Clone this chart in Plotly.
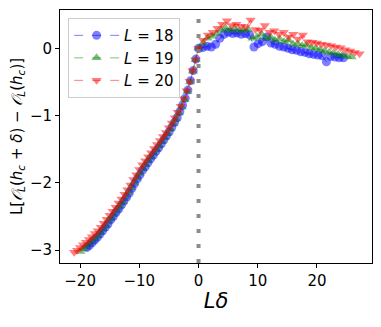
import plotly.graph_objects as go

# field offsets delta = h - h_c; the scan is finer below h_c than above it
delta = [-1.050, -1.025, -1.000, -0.975, -0.950, -0.925, -0.900, -0.875, -0.850, -0.825,
         -0.800, -0.775, -0.750, -0.725, -0.700, -0.675, -0.650, -0.625, -0.600, -0.575,
         -0.550, -0.525, -0.500, -0.475, -0.450, -0.425, -0.400, -0.375, -0.350, -0.325,
         -0.300, -0.275, -0.250, -0.225, -0.200, -0.175, -0.150, -0.125, -0.100, -0.075,
         -0.050, -0.025, 0.000,
         0.04, 0.08, 0.12, 0.16, 0.20, 0.24, 0.28, 0.32, 0.36, 0.40,
         0.44, 0.48, 0.52, 0.56, 0.60, 0.64, 0.68, 0.72, 0.76, 0.80,
         0.84, 0.88, 0.92, 0.96, 1.00, 1.04, 1.08, 1.12, 1.16, 1.20,
         1.24, 1.28, 1.32, 1.36]

y_L18 = [-2.96, -2.93, -2.89, -2.85, -2.81, -2.76, -2.71, -2.66, -2.61, -2.55,
         -2.50, -2.44, -2.39, -2.33, -2.27, -2.21, -2.15, -2.08, -2.01, -1.94,
         -1.88, -1.81, -1.76, -1.70, -1.64, -1.59, -1.53, -1.48, -1.42, -1.36,
         -1.30, -1.24, -1.17, -1.10, -1.03, -0.94, -0.85, -0.74, -0.62, -0.48,
         -0.33, -0.16, 0.00,
         0.01, 0.03, 0.02, 0.06, 0.15, 0.21, 0.24, 0.22, 0.23, 0.21,
         0.22, 0.20, 0.02, 0.07, 0.10, 0.17, 0.08, 0.06, 0.03, 0.02,
         0.00, -0.02, -0.03, -0.05, -0.06, -0.08, -0.09, -0.10, -0.11, -0.20,
         -0.12, -0.13, -0.14, -0.14]

y_L19 = [-3.02, -2.98, -2.94, -2.90, -2.86, -2.82, -2.78, -2.73, -2.68, -2.62,
         -2.56, -2.51, -2.45, -2.39, -2.34, -2.28, -2.21, -2.14, -2.07, -2.00,
         -1.93, -1.86, -1.79, -1.73, -1.67, -1.61, -1.55, -1.50, -1.44, -1.38,
         -1.32, -1.26, -1.20, -1.12, -1.05, -0.96, -0.87, -0.76, -0.64, -0.50,
         -0.34, -0.17, 0.00,
         0.08, 0.15, 0.18, 0.22, 0.27, 0.30, 0.27, 0.29, 0.26, 0.27,
         0.28, 0.15, 0.17, 0.21, 0.15, 0.17, 0.12, 0.14, 0.10, 0.12,
         0.06, 0.07, 0.04, 0.05, 0.01, 0.00, -0.02, -0.04, -0.06, -0.07,
         -0.09, -0.10, -0.12, -0.13]

y_L20 = [-3.03, -3.00, -2.96, -2.92, -2.88, -2.84, -2.80, -2.75, -2.71, -2.66,
         -2.60, -2.54, -2.48, -2.42, -2.36, -2.30, -2.24, -2.17, -2.10, -2.03,
         -1.95, -1.88, -1.80, -1.73, -1.67, -1.61, -1.55, -1.49, -1.43, -1.37,
         -1.31, -1.25, -1.18, -1.11, -1.03, -0.95, -0.86, -0.75, -0.63, -0.49,
         -0.33, -0.17, 0.00,
         0.12, 0.20, 0.24, 0.30, 0.36, 0.41, 0.34, 0.36, 0.33, 0.32,
         0.42, 0.28, 0.27, 0.34, 0.24, 0.26, 0.21, 0.24, 0.17, 0.21,
         0.14, 0.20, 0.10, 0.09, 0.08, 0.06, 0.05, 0.04, 0.02, 0.01,
         -0.02, -0.04, -0.06, -0.08]

series = [
    (18, y_L18, "rgba(0,0,255,0.5)", "circle"),
    (19, y_L19, "rgba(0,128,0,0.5)", "triangle-up"),
    (20, y_L20, "rgba(255,0,0,0.5)", "triangle-down"),
]

fig = go.Figure()
for L, ys, col, sym in series:
    fig.add_trace(go.Scatter(
        x=[L * d for d in delta], y=ys,
        mode="lines+markers",
        name=f"<i>L</i> = {L}",
        line=dict(color=col, width=1, dash="dash"),
        marker=dict(symbol=sym, size=9, color=col, line=dict(width=0)),
    ))

# critical point marker
fig.add_shape(type="line", xref="x", yref="paper", x0=0, x1=0, y0=0, y1=1,
              line=dict(color="rgba(128,128,128,0.9)", width=4, dash="4px,11px"))

axis_common = dict(showgrid=False, zeroline=False, showline=True, linecolor="black",
                   linewidth=1, mirror=True, ticks="outside", ticklen=4,
                   tickcolor="black", tickfont=dict(size=15, color="black"),
                   automargin=False)

# page body adds an 8px offset, so the figure is a bit smaller than the window
fig.update_layout(
    width=373, height=319,
    margin=dict(l=52, r=9, t=2, b=64),
    plot_bgcolor="white", paper_bgcolor="white",
    font=dict(family="DejaVu Sans", color="black"),
    showlegend=True,
    legend=dict(x=0.026, y=0.968, xanchor="left", yanchor="top",
                bordercolor="#cccccc", borderwidth=1, bgcolor="rgba(255,255,255,0.8)",
                font=dict(size=15), itemwidth=45, tracegroupgap=0),
    xaxis=dict(range=[-23.4, 29.3], tickvals=[-20, -10, 0, 10, 20],
               title=dict(text="<i>Lδ</i>", font=dict(size=21), standoff=4),
               **axis_common),
    yaxis=dict(range=[-3.19, 0.57], tickvals=[-3, -2, -1, 0],
               title=dict(text="L[<i>𝒪</i><sub><i>L</i></sub>(<i>h</i><sub><i>c</i></sub> + <i>δ</i>) − "
                               "<i>𝒪</i><sub><i>L</i></sub>(<i>h</i><sub><i>c</i></sub>)]",
                          font=dict(size=15), standoff=4),
               **axis_common),
)

fig.write_html("out.html")
